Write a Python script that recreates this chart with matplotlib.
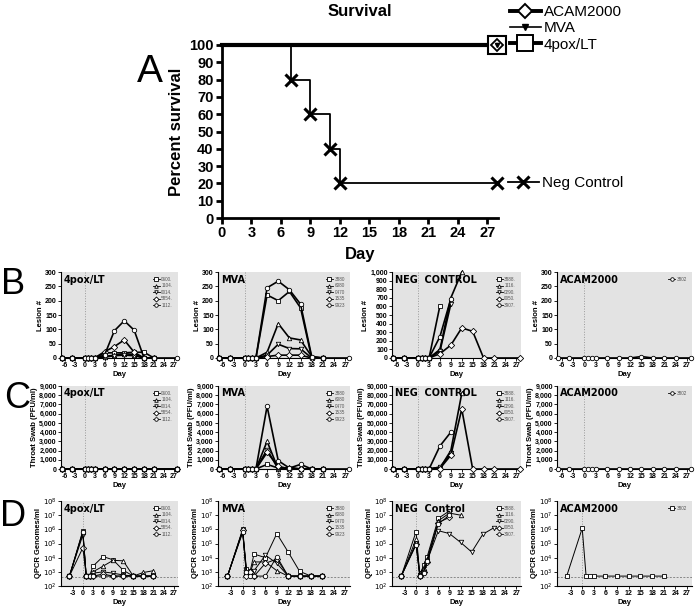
import numpy as np
import matplotlib
matplotlib.use('Agg')
import matplotlib.pyplot as plt
from matplotlib.lines import Line2D
from matplotlib.ticker import FixedLocator, FuncFormatter
import logging
logging.getLogger('matplotlib.font_manager').setLevel(logging.ERROR)

plt.rcParams['font.family'] = ['Liberation Sans', 'DejaVu Sans']
plt.rcParams['axes.unicode_minus'] = False
NARROW = ['Liberation Sans Narrow', 'Liberation Sans', 'DejaVu Sans']
HEAVY = ['DejaVu Sans']

# ---------------- data ----------------
# Panel A: survival
surv_days = [0, 7, 9, 11, 12, 28]
neg_surv = [100, 80, 60, 40, 20, 20]
vacc_days = [0, 28]
vacc_surv = [100, 100]
surv_groups = ['ACAM2000', 'MVA', '4pox/LT']
neg_label = 'Neg Control'

groups = ['4pox/LT', 'MVA', 'NEG  CONTROL', 'ACAM2000']
d_titles = ['4pox/LT', 'MVA', 'NEG  Control', 'ACAM2000']
ids_4pox = ['0600.', '1104.', '0014.', '5854.', '1112.']
ids_mva = ['3880', '6080', '0470', '1535', '9923']
ids_neg = ['3888.', '1116.', '0290.', '0050.', '3907.']
ids_acam = ['3802']

nan = np.nan
bc_days = [-7, -4, 0, 1, 2, 3, 6, 9, 12, 15, 18, 21, 28]
acam_bc_days = [-7, -4, 0, 1, 2, 3, 6, 9, 12, 15, 18, 21, 24, 28]

# Panel B: lesion counts
B_4pox = [
    [0, 0, 0, 0, 0, 0, 18, 18, 18, 20, 20, 0, nan],
    [0, 0, 0, 0, 0, 0, 5, 10, 15, 12, 0, 0, nan],
    [0, 0, 0, 0, 0, 0, 3, 8, 10, 8, 0, 0, nan],
    [0, 0, 0, 0, 0, 0, 22, 40, 63, 20, 0, 0, nan],
    [0, 0, 0, 0, 0, 0, 10, 95, 130, 97, 0, 0, 0],
]
B_mva = [
    [0, 0, 0, 0, 0, 0, 220, 200, 232, 175, 0, 0, nan],
    [0, 0, 0, 0, 0, 0, 20, 120, 70, 63, 5, 0, nan],
    [0, 0, 0, 0, 0, 0, 10, 48, 33, 32, 0, 0, nan],
    [0, 0, 0, 0, 0, 0, 5, 10, 10, 10, 0, 0, nan],
    [0, 0, 0, 0, 0, 0, 245, 268, 238, 188, 5, 0, 0],
]
B_neg = [
    [0, 0, 0, 0, 0, 0, 610, nan, nan, nan, nan, nan, nan],
    [0, 0, 0, 0, 0, 0, 100, 700, 1000, nan, nan, nan, nan],
    [0, 0, 0, 0, 0, 0, 80, 630, nan, nan, nan, nan, nan],
    [0, 0, 0, 0, 0, 0, 50, 150, 350, 310, 0, 0, 0],
    [0, 0, 0, 0, 0, 0, 250, 690, nan, nan, nan, nan, nan],
]
B_acam = [[0, 0, 0, 0, 0, 0, 0, 0, 0, 5, 0, 0, 0, 0]]

# Panel C: throat swab PFU/ml
C_4pox = [[0] * 13 for _ in range(5)]
C_mva = [
    [0, 0, 0, 0, 0, 0, 500, 100, 0, 0, 0, 0, nan],
    [0, 0, 0, 0, 0, 0, 3000, 0, 200, 0, 0, 0, nan],
    [0, 0, 0, 0, 0, 0, 2100, 0, 0, 0, 0, 0, nan],
    [0, 0, 0, 0, 0, 0, 1800, 300, 0, 0, 0, 0, nan],
    [0, 0, 0, 0, 0, 0, 6800, 900, 100, 500, 0, 0, 0],
]
C_neg = [
    [0, 0, 0, 0, 0, 0, 2000, nan, nan, nan, nan, nan, nan],
    [0, 0, 0, 0, 0, 0, 1000, 20000, 82000, nan, nan, nan, nan],
    [0, 0, 0, 0, 0, 0, 2000, 17000, nan, nan, nan, nan, nan],
    [0, 0, 0, 0, 0, 0, 500, 15000, 65000, 0, 0, 0, 0],
    [0, 0, 0, 0, 0, 0, 25000, 40000, nan, nan, nan, nan, nan],
]
C_acam = [[0] * 14]

# Panel D: QPCR genomes/ml
d_days = [-4, 0, 1, 2, 3, 6, 9, 12, 15, 18, 21]
D_4pox = [
    [5e2, 8e5, 5e2, 5e2, 2.5e3, 1.2e4, 7e3, 1.3e3, 5e2, 5e2, 5e2],
    [5e2, 6e5, 5e2, 5e2, 1e3, 2.5e3, 6.5e3, 6e3, 5e2, 9e2, 1.2e3],
    [5e2, 4e5, 5e2, 5e2, 8e2, 1e3, 8e2, 6e2, 5e2, 5e2, 5e2],
    [5e2, 5e4, 5e2, 5e2, 5e2, 7e2, 5e2, 5e2, 5e2, 5e2, 5e2],
    [5e2, 7e5, 5e2, 5e2, 5e2, 5e2, 5e2, 5e2, 5e2, 5e2, 5e2],
]
D_mva = [
    [5e2, 1e6, 1.5e3, 1.2e3, 1.8e4, 1e4, 5e5, 2.5e4, 1.1e3, 5e2, 5e2],
    [5e2, 8e5, 1e3, 1e3, 5e3, 5e3, 1.2e3, 5e2, 5e2, 5e2, 5e2],
    [5e2, 6e5, 8e2, 5e2, 1.2e3, 1.5e4, 4e3, 5e2, 5e2, 5e2, 5e2],
    [5e2, 9e5, 5e2, 1e3, 5e2, 4e3, 8e3, 5e2, 5e2, 5e2, 5e2],
    [5e2, 7e5, 1e3, 5e2, 5e2, 5e2, 1.2e4, 5e2, 5e2, 5e2, 5e2],
]
D_neg = [
    [5e2, 7e5, 5e2, 3e3, 1.2e4, 6e6, 2e7, nan, nan, nan, nan],
    [5e2, 2e5, 8e2, 2e3, 8e3, 4e6, 1.4e7, 1e7, nan, nan, nan],
    [5e2, 1e5, 6e2, 1e3, 6e3, 8e5, 5e5, 1.2e5, 2.5e4, 4.5e5, 1.3e6],
    [5e2, 1e5, 5e2, 1e3, 5e3, 3e6, 7e6, nan, nan, nan, nan],
    [5e2, 8e4, 5e2, 8e2, 6e3, 2.5e6, 1e7, nan, nan, nan, nan],
]
D_acam = [[5e2, 1.2e6, 5e2, 5e2, 5e2, 5e2, 5e2, 5e2, 5e2, 5e2, 5e2]]
lod = 4e2

markers = ['s', '^', 'v', 'D', 'o']

# ---------------- layout ----------------
W, H = 700, 606
fig = plt.figure(figsize=(7, 6.06), dpi=100)


def box(l, t, r, b):
    return [l / W, 1 - b / H, (r - l) / W, (b - t) / H]


# ---------------- Panel A ----------------
axA = fig.add_axes(box(222, 45, 498, 218))
axA.set_xlim(0, 28.1)
axA.set_ylim(0, 100)
for s in ['top', 'right']:
    axA.spines[s].set_visible(False)
for s in ['left', 'bottom']:
    axA.spines[s].set_linewidth(2)
axA.set_xticks(np.arange(0, 28, 3))
axA.set_yticks(np.arange(0, 101, 10))
axA.tick_params(width=2, length=4, labelsize=10.5, pad=2)
for lab in axA.get_xticklabels() + axA.get_yticklabels():
    lab.set_fontfamily(NARROW)
    lab.set_fontweight('bold')

axA.step(surv_days, neg_surv, where='post', color='k', lw=1.3, clip_on=False, zorder=3)
axA.plot(surv_days[1:], neg_surv[1:], ls='none', marker='x', ms=8, mew=2.2,
         color='k', clip_on=False, zorder=4)
axA.plot(vacc_days, vacc_surv, color='k', lw=3, clip_on=False, zorder=3)
axA.plot([28], [100], marker='s', ms=13, mfc='white', mec='k', mew=1.5,
         clip_on=False, zorder=5)
axA.plot([28], [100], marker='D', ms=6, mfc='white', mec='k', mew=1.3,
         clip_on=False, zorder=6)
axA.plot([28], [100], marker='v', ms=3, color='k', clip_on=False, zorder=7)

axA.set_xlabel('Day', fontsize=12, fontweight='bold', labelpad=5)
axA.set_ylabel('Percent survival', fontsize=12, fontweight='bold', labelpad=4)
axA.set_title('Survival', fontsize=12, fontweight='bold', pad=21, x=0.5)

hA = [Line2D([], [], color='k', lw=2.8, marker='D', ms=7, mfc='white', mew=1.4),
      Line2D([], [], color='k', lw=1.2, marker='v', ms=4),
      Line2D([], [], color='k', lw=2.8, marker='s', ms=11, mfc='white', mew=1.4)]
legA = fig.legend(hA, surv_groups, loc='upper left', bbox_to_anchor=(510 / W, 1 - 5 / H),
                  frameon=False, fontsize=11, handlelength=2.0, handletextpad=0.2,
                  labelspacing=0.15, borderpad=0, borderaxespad=0)
hN = [Line2D([], [], color='k', lw=1.3, marker='x', ms=8, mew=2.2)]
fig.legend(hN, [neg_label], loc='center left', bbox_to_anchor=(508 / W, 1 - 183 / H),
           frameon=False, fontsize=11, handlelength=2.0, handletextpad=0.2,
           borderpad=0, borderaxespad=0)

fig.text(150 / W, 1 - 72 / H, 'A', fontsize=28, ha='center', va='center')
fig.text(13 / W, 1 - 284 / H, 'B', fontsize=26, ha='center', va='center')
fig.text(17 / W, 1 - 399 / H, 'C', fontsize=26, ha='center', va='center')
fig.text(13 / W, 1 - 517 / H, 'D', fontsize=26, ha='center', va='center')

# ---------------- small panels ----------------
cols = [(61, 178), (218, 350), (392, 521), (557, 692)]
rows = {'B': (272, 358), 'C': (386, 469), 'D': (501, 586)}
GRAY = '#e3e3e3'


def style_small(ax):
    ax.set_facecolor(GRAY)
    for s in ['top', 'right']:
        ax.spines[s].set_visible(False)
    for s in ['left', 'bottom']:
        ax.spines[s].set_linewidth(0.8)
    ax.tick_params(labelsize=5, length=2, width=0.6, pad=1)
    for lab in ax.get_xticklabels() + ax.get_yticklabels():
        lab.set_fontweight('bold')
        lab.set_fontfamily(NARROW)


def small_panel(ax, days, series, ids, title, ylim, yticks, yfmt, ylabel, log=False, lw=1.2):
    ax.axvline(0, color='#999999', ls=':', lw=0.7, zorder=1)
    for i, vals in enumerate(series):
        m = markers[i % 5] if len(series) > 1 else ('o' if not log else 's')
        ax.plot(days, vals, color='k', lw=lw, marker=m, ms=3.2, mfc='white',
                mec='k', mew=0.6, clip_on=False, zorder=3, label=ids[i])
    if log:
        ax.set_yscale('log')
        ax.axhline(lod, color='#888888', ls=(0, (2, 1.5)), lw=0.7, zorder=1)
        ax.set_xlim(-6.5, 28.3)
        ax.set_xticks(np.arange(-3, 28, 3))
    else:
        ax.set_xlim(-7.2, 28.3)
        ax.set_xticks(np.arange(-6, 28, 3))
    ax.set_ylim(*ylim)
    ax.set_yticks(yticks)
    ax.yaxis.set_major_formatter(FuncFormatter(yfmt))
    ax.yaxis.set_minor_locator(FixedLocator([]))
    style_small(ax)
    ax.set_xlabel('Day', fontsize=5.5, fontweight='bold', labelpad=1)
    ax.set_ylabel(ylabel, fontsize=5.5, fontweight='bold', labelpad=1)
    ax.text(0.02, 0.97, title, transform=ax.transAxes, fontsize=7, fontweight='bold',
            family=HEAVY, va='top', ha='left')
    leg = ax.legend(loc='upper right', fontsize=3.3, frameon=False, handlelength=1.6,
                    handletextpad=0.3, labelspacing=0.3, borderpad=0.6, markerscale=0.8)
    for t in leg.get_texts():
        t.set_color('#555555')
    for h in leg.legend_handles:
        h.set_linewidth(0.6)


def intfmt(v, p):
    return f'{int(v):,}'


def logfmt(v, p):
    return r'$10^{%d}$' % int(round(np.log10(v)))


all_ids = [ids_4pox, ids_mva, ids_neg, ids_acam]
B_sets = [B_4pox, B_mva, B_neg, B_acam]
C_sets = [C_4pox, C_mva, C_neg, C_acam]
D_sets = [D_4pox, D_mva, D_neg, D_acam]

for j in range(4):
    l, r = cols[j]
    days = acam_bc_days if j == 3 else bc_days
    # B
    t, b = rows['B']
    ax = fig.add_axes(box(l, t, r, b))
    if j == 2:
        small_panel(ax, days, B_sets[j], all_ids[j], groups[j], (0, 1000),
                    np.arange(0, 1001, 100), intfmt, 'Lesion #')
    else:
        small_panel(ax, days, B_sets[j], all_ids[j], groups[j], (0, 300),
                    np.arange(0, 301, 50), intfmt, 'Lesion #')
    # C
    t, b = rows['C']
    ax = fig.add_axes(box(l, t, r, b))
    if j == 2:
        small_panel(ax, days, C_sets[j], all_ids[j], groups[j], (0, 90000),
                    np.arange(0, 90001, 10000), intfmt, 'Throat Swab (PFU/ml)')
    else:
        small_panel(ax, days, C_sets[j], all_ids[j], groups[j], (0, 9000),
                    np.arange(0, 9001, 1000), intfmt, 'Throat Swab (PFU/ml)')
    # D
    t, b = rows['D']
    ax = fig.add_axes(box(l, t, r, b))
    small_panel(ax, d_days, D_sets[j], all_ids[j], d_titles[j], (1e2, 1e8),
                [10 ** k for k in range(2, 9)], logfmt, 'QPCR Genomes/ml', log=True, lw=0.7)

fig.savefig('out.png', dpi=100)
